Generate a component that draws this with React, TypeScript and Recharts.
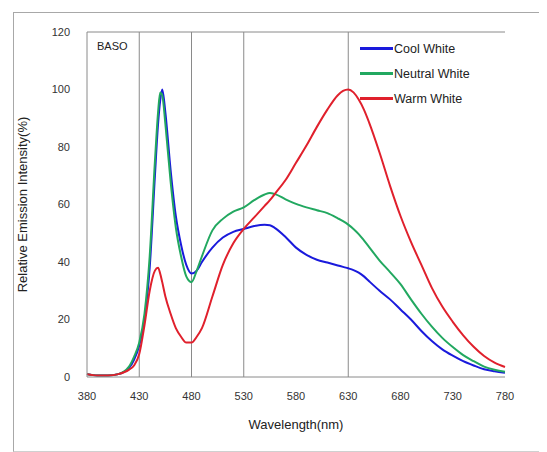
import React from "react";
import { LineChart, Line, XAxis, YAxis, ReferenceLine, Label } from "recharts";

const wavelengths = [380, 390, 400, 410, 420, 425, 430, 435, 440, 445, 448, 450, 452, 455, 460, 465, 470, 475, 480, 485, 490, 500, 510, 520, 530, 540, 550, 555, 560, 570, 580, 590, 600, 610, 620, 625, 630, 635, 640, 645, 650, 660, 670, 680, 690, 700, 710, 720, 730, 740, 750, 760, 770, 780];
const coolWhite = [1, 0.5, 0.5, 1, 3, 6, 11, 20, 38, 70, 88, 96, 100, 92, 72, 56, 46, 39, 36, 37, 40, 45, 48.5, 50.5, 51.5, 52.5, 53, 52.8, 51.8, 48.7, 45, 42.5, 40.8, 39.8, 38.8, 38.3, 37.8, 37.2, 36.3, 35, 33.3, 30, 27, 23.5, 20, 16, 12.5, 9.6, 7.4, 5.5, 4, 2.7, 2, 1.5];
const neutralWhite = [1, 0.5, 0.5, 1, 3.5, 7, 12, 22, 42, 75, 92, 99, 98, 88, 68, 52, 42, 35, 33, 37, 42, 51, 55, 57.5, 59, 61.5, 63.5, 64, 63.6, 61.8, 60.2, 59, 58, 57, 55.2, 54.2, 53, 51.5, 49.7, 47.5, 45.2, 40.5, 36.5, 32.3, 27, 22, 17.5, 13.6, 10.4, 7.6, 5.5, 3.6, 2.5, 1.8];
const warmWhite = [1, 0.5, 0.5, 1, 2.5, 4, 8, 18, 30, 37, 38, 36, 33, 28, 22, 17, 14, 12, 12, 14, 17, 28, 39, 46.5, 51.5, 55.5, 59.5, 61.5, 63.8, 68.5, 74.5, 80.5, 87, 93, 98, 99.5, 100, 99, 96.5, 93, 88.5, 78, 66.5, 56, 47, 39, 31, 24.5, 19.2, 14.5, 10.5, 7.3, 5, 3.5];
const xTicks = [380, 430, 480, 530, 580, 630, 680, 730, 780];
const yTicks = [0, 20, 40, 60, 80, 100, 120];
const gridX = [430, 480, 530, 630];

const seriesNames = ["Cool White", "Neutral White", "Warm White"];
const seriesColors = ["#1a1adc", "#22a860", "#e0202c"];
const seriesKeys = ["cool", "neutral", "warm"];

const data = wavelengths.map((w, i) => ({
  w,
  cool: coolWhite[i],
  neutral: neutralWhite[i],
  warm: warmWhite[i],
}));

const FONT = "'Liberation Sans', Arial, sans-serif";

export default function App() {
  return (
    <div style={{ position: "relative", width: 539, height: 444 }}>
      <div style={{ position: "absolute", left: -5, top: -5, width: 545, height: 460, border: "1px solid #e4e4e4" }} />
      <div style={{ position: "absolute", left: 5, top: 4, width: 529, height: 438, border: "1px solid #a8a8a8", borderBottomColor: "#d0d0d0" }} />
      <div style={{ position: "absolute", left: 0, top: 0 }}>
        <LineChart width={539} height={444} data={data} margin={{ top: 24, right: 42, left: 0, bottom: 45 }}>
          <XAxis
            dataKey="w"
            type="number"
            domain={[380, 780]}
            ticks={xTicks}
            tickLine={false}
            tickSize={0}
            tickMargin={15}
            axisLine={{ stroke: "#8a8a8a" }}
            tick={{ fontSize: 11, fill: "#333", fontFamily: FONT }}
            height={30}
          >
            <Label value="Wavelength(nm)" position="insideBottom" offset={-22} style={{ fontSize: 13, fill: "#222", fontFamily: FONT }} />
          </XAxis>
          <YAxis
            type="number"
            domain={[0, 120]}
            ticks={yTicks}
            tickLine={false}
            tickSize={0}
            tickMargin={17}
            axisLine={{ stroke: "#8a8a8a" }}
            tick={{ fontSize: 11, fill: "#333", fontFamily: FONT }}
            width={79}
          >
            <Label value="Relative Emission Intensity(%)" angle={-90} position="insideLeft" offset={14} style={{ fontSize: 13, fill: "#222", fontFamily: FONT, textAnchor: "middle" }} />
          </YAxis>
          {gridX.map((g) => (
            <ReferenceLine key={g} x={g} stroke="#8a8a8a" strokeWidth={1} />
          ))}
          <ReferenceLine y={120} stroke="#8a8a8a" strokeWidth={1}>
            <Label value="BASO" position="insideTopLeft" offset={10} style={{ fontSize: 11, fill: "#222", fontFamily: FONT }} />
          </ReferenceLine>
          {seriesKeys.map((k, i) => (
            <Line
              key={k}
              dataKey={k}
              name={seriesNames[i]}
              type="monotone"
              stroke={seriesColors[i]}
              strokeWidth={2}
              dot={false}
              isAnimationActive={false}
            />
          ))}
        </LineChart>
      </div>
      <div style={{ position: "absolute", left: 352, top: 28, fontFamily: FONT, fontSize: 12.5, color: "#222" }}>
        {seriesNames.map((n, i) => (
          <div key={n} style={{ display: "flex", alignItems: "center", height: 25 }}>
            <div style={{ width: 33, height: 3, background: seriesColors[i], marginRight: 1 }} />
            <span>{n}</span>
          </div>
        ))}
      </div>
    </div>
  );
}
